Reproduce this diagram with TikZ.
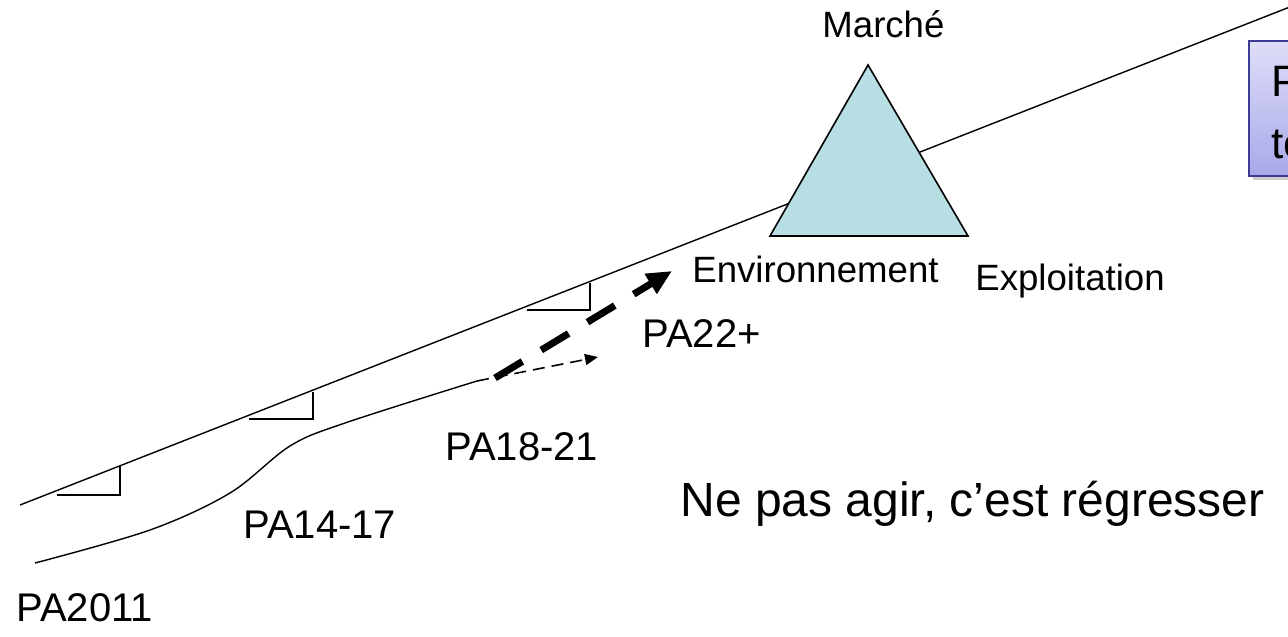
\documentclass[tikz,border=0pt]{standalone}
\usepackage{fontspec}
\setmainfont{Liberation Sans}
\usepackage{xcolor}
\usepackage{tikz}
\usetikzlibrary{arrows.meta, shadows}

\definecolor{pyramid}{RGB}{183,222,226}
\definecolor{boxtop}{RGB}{222,222,248}
\definecolor{boxbot}{RGB}{168,168,234}
\definecolor{boxline}{RGB}{60,60,150}

\begin{document}
\begin{tikzpicture}[
                x=0.5pt, y=-0.5pt,
                lbl/.style={anchor=base west, inner sep=0pt, font=\fontsize{20}{24}\selectfont},
                small/.style={anchor=base west, inner sep=0pt, font=\fontsize{18.3}{22}\selectfont},
                big/.style={anchor=base west, inner sep=0pt, font=\fontsize{24}{28}\selectfont},
                infobox/.style={rectangle, draw=boxline, line width=0.8pt, top color=boxtop, bottom color=boxbot,
                    drop shadow={shadow xshift=2pt, shadow yshift=-2pt, opacity=0.4},
                    anchor=north west, minimum width=100pt, minimum height=67.5pt},
                boxtext/.style={anchor=north west, inner sep=0pt, align=left, font=\fontsize{22}{31}\selectfont},
                tick/.style={line width=0.6pt},
                thinarrow/.style={line width=0.8pt, dash pattern=on 6pt off 3.5pt, -{Triangle[length=6.5pt, width=5.5pt]}},
                thickarrow/.style={line width=3.5pt, dash pattern=on 16pt off 11pt, -{Triangle[length=12.5pt, width=11pt]}}
            ]
                \useasboundingbox (0,0) rectangle (1288,636);
                \clip (0,0) rectangle (1288,636);

                % Trend line
                \coordinate (start) at (20,505);
                \coordinate (finish) at (1300,3);
                \draw[line width=0.7pt] (start) -- (finish);

                % Right angle marks
                \draw[tick] (57,495) -- (120,495) -- (120,466);
                \draw[tick] (249,419) -- (313,419) -- (313,392);
                \draw[tick] (527,310) -- (590,310) -- (590,283);

                % Actual path
                \coordinate (pa18) at (477,381);
                \draw[line width=0.7pt] plot[smooth, tension=0.55] coordinates
                    {(35,563) (150,530) (230,493) (290,446) (345,423) (pa18)};

                % Arrows
                \coordinate (thintip) at (598,357);
                \coordinate (thickstart) at (495,378);
                \coordinate (thicktip) at (672,271);
                \draw[thinarrow] (pa18) -- (thintip);
                \draw[thickarrow] (thickstart) -- (thicktip);

                % Pyramid
                \coordinate (apex) at (868,65);
                \coordinate (left) at (770,236);
                \coordinate (right) at (968,236);
                \draw[fill=pyramid, line width=0.8pt] (apex) -- (left) -- (right) -- cycle;

                % Labels
                \node[small] (marche) at (822,38) {Marché};
                \node[small] (envir) at (692,282) {Environnement};
                \node[small] (exploit) at (975,290) {Exploitation};
                \node[lbl] (pa22) at (642,347) {PA22+};
                \node[lbl] (pa1821) at (445,460) {PA18-21};
                \node[lbl] (pa1417) at (243,538) {PA14-17};
                \node[lbl] (pa2011) at (16,621) {PA2011};
                \node[big] (motto) at (680,516) {Ne pas agir, c’est régresser};

                % Info box
                \node[infobox] (info) at (1248,40) {};
                \node[boxtext] (infotext) at (1271,65.5) {P\\te};
            \end{tikzpicture}
\end{document}
